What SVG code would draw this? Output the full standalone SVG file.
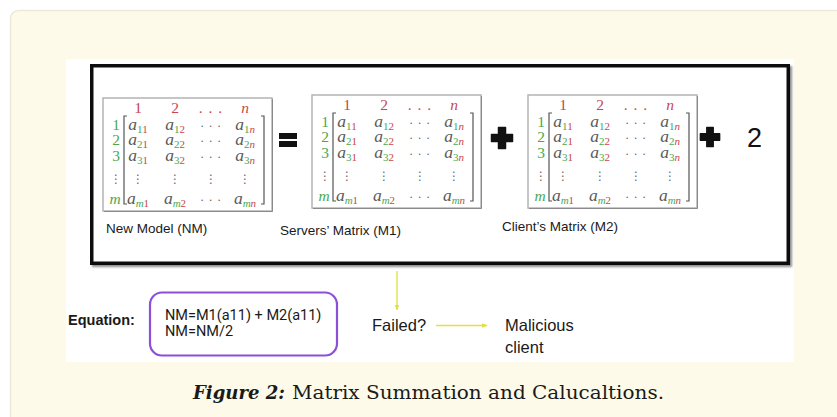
<svg xmlns="http://www.w3.org/2000/svg" xmlns:xlink="http://www.w3.org/1999/xlink" width="837" height="417" viewBox="0 0 837 417">
  <style>
    .lbl { font-family: "Liberation Sans", Arial, sans-serif; font-size: 13.5px; fill: #1a1a1a; }
    .txt { font-family: "Liberation Sans", Arial, sans-serif; font-size: 16.5px; fill: #1a1a1a; }
    .eq { font-family: Roboto, "Liberation Sans", sans-serif; font-size: 14.5px; fill: #1a1a1a; }
    .hd { font-family: "Liberation Serif", "DejaVu Serif", serif; font-size: 15.5px; fill: #c9474a; text-anchor: middle; }
    .rl { font-family: "Liberation Serif", "DejaVu Serif", serif; font-size: 15.5px; fill: #4aa84e; text-anchor: middle; }
    .en { font-family: "Liberation Serif", "DejaVu Serif", serif; font-size: 17.5px; fill: #5a5a5a; font-style: italic; text-anchor: middle; }
    .sg { font-size: 11px; fill: #4aa84e; font-style: normal; }
    .sr { font-size: 11px; fill: #c9474a; font-style: normal; }
    .si { font-size: 11px; font-style: italic; }
    .dt { font-family: "DejaVu Sans", sans-serif; font-size: 12px; fill: #6a6a6a; text-anchor: middle; }
    .hdt { font-family: "Liberation Serif", serif; font-size: 13px; fill: #6a6a6a; text-anchor: middle; letter-spacing: 1px; }
    .frame { fill: #ffffff; stroke: #b4b4b4; stroke-width: 1.5; }
    .brk { fill: none; stroke: #555; stroke-width: 1.2; }
    .yl { stroke: #e3df3c; stroke-width: 1.3; fill: none; }
    .cap { font-family: "DejaVu Serif", "Liberation Serif", serif; font-size: 19px; fill: #1a1a1a; }
  </style>
  <defs>
    <filter id="shadow" x="-5%" y="-5%" width="110%" height="115%">
      <feGaussianBlur in="SourceAlpha" stdDeviation="1.2"/>
      <feOffset dx="2" dy="2" result="b"/>
      <feComponentTransfer><feFuncA type="linear" slope="0.45"/></feComponentTransfer>
      <feMerge><feMergeNode/><feMergeNode in="SourceGraphic"/></feMerge>
    </filter>
    <marker id="ya" viewBox="0 0 10 10" refX="9" refY="5" markerWidth="6" markerHeight="6" orient="auto" markerUnits="userSpaceOnUse">
      <path d="M0,1 L10,5 L0,9 z" fill="#e3df3c"/>
    </marker>
    <path id="plus" d="M-3.5,-10.5 h7 v7 h7 v7 h-7 v7 h-7 v-7 h-7 v-7 h7 z" fill="#111" stroke="#111" stroke-width="1.5" stroke-linejoin="round"/>
    <!-- generic m x n matrix card, origin at frame top-left -->
    <g id="matrix">
      <rect class="frame" x="0" y="0" width="169" height="113"/>
      <path d="M169.5,1 V113.5 H1" fill="none" stroke="#8a8a8a" stroke-width="1"/>
      <text class="hd" x="35" y="15">1</text>
      <text class="hd" x="72" y="15">2</text>
      <text class="hd" x="108" y="15" letter-spacing="1">. . .</text>
      <text class="hd" x="142" y="15" font-style="italic">n</text>
      <text class="rl" x="13" y="32">1</text>
      <text class="rl" x="13" y="47">2</text>
      <text class="rl" x="13" y="63">3</text>
      <text class="dt" x="13" y="85">⋮</text>
      <text class="rl" x="12" y="106" font-style="italic">m</text>
      <path class="brk" d="M24,18 H21 V106 H24"/>
      <path class="brk" d="M158,18 H161 V106 H158"/>
      <text class="en" x="35" y="32">a<tspan class="sg" dy="2.5">1</tspan><tspan class="sr">1</tspan></text>
      <text class="en" x="72" y="32">a<tspan class="sg" dy="2.5">1</tspan><tspan class="sr">2</tspan></text>
      <text class="hdt" x="108" y="29">. . .</text>
      <text class="en" x="142" y="32">a<tspan class="sg" dy="2.5">1</tspan><tspan class="sr si">n</tspan></text>
      <text class="en" x="35" y="47">a<tspan class="sg" dy="2.5">2</tspan><tspan class="sr">1</tspan></text>
      <text class="en" x="72" y="47">a<tspan class="sg" dy="2.5">2</tspan><tspan class="sr">2</tspan></text>
      <text class="hdt" x="108" y="44">. . .</text>
      <text class="en" x="142" y="47">a<tspan class="sg" dy="2.5">2</tspan><tspan class="sr si">n</tspan></text>
      <text class="en" x="35" y="63">a<tspan class="sg" dy="2.5">3</tspan><tspan class="sr">1</tspan></text>
      <text class="en" x="72" y="63">a<tspan class="sg" dy="2.5">3</tspan><tspan class="sr">2</tspan></text>
      <text class="hdt" x="108" y="60">. . .</text>
      <text class="en" x="142" y="63">a<tspan class="sg" dy="2.5">3</tspan><tspan class="sr si">n</tspan></text>
      <text class="dt" x="35" y="85">⋮</text>
      <text class="dt" x="72" y="85">⋮</text>
      <text class="dt" x="108" y="85">⋮</text>
      <text class="dt" x="142" y="85">⋮</text>
      <text class="en" x="35" y="106">a<tspan class="sg si" dy="2.5">m</tspan><tspan class="sr">1</tspan></text>
      <text class="en" x="72" y="106">a<tspan class="sg si" dy="2.5">m</tspan><tspan class="sr">2</tspan></text>
      <text class="hdt" x="108" y="103">. . .</text>
      <text class="en" x="142" y="106">a<tspan class="sg si" dy="2.5">m</tspan><tspan class="sr si">n</tspan></text>
    </g>
  </defs>

  <!-- page panel -->
  <rect x="10.5" y="10.5" width="840" height="430" rx="8" fill="#fefae9" stroke="#ede9d6" stroke-width="1.5"/>
  <rect x="66" y="59" width="728" height="303" fill="#ffffff"/>

  <!-- summation frame -->
  <g id="sum-frame">
    <rect x="91.75" y="65.75" width="696.5" height="197.5" fill="#ffffff" stroke="#111" stroke-width="3.5" filter="url(#shadow)"/>
  </g>

  <g id="nm">
    <use xlink:href="#matrix" href="#matrix" transform="translate(103,98)"/>
    <text class="lbl" x="106" y="233">New Model (NM)</text>
  </g>

  <g id="equals">
    <rect x="279" y="133" width="18" height="6" fill="#111"/>
    <rect x="279" y="141" width="18" height="6" fill="#111"/>
  </g>

  <g id="m1">
    <use xlink:href="#matrix" href="#matrix" transform="translate(312,95)"/>
    <text class="lbl" x="280" y="235">Servers’ Matrix (M1)</text>
  </g>

  <g id="plus1">
    <use xlink:href="#plus" href="#plus" transform="translate(502,138)"/>
  </g>

  <g id="m2">
    <use xlink:href="#matrix" href="#matrix" transform="translate(528,95)"/>
    <text class="lbl" x="502" y="231">Client’s Matrix (M2)</text>
  </g>

  <g id="plus2">
    <use xlink:href="#plus" href="#plus" transform="translate(710,137) scale(0.92)"/>
  </g>

  <g id="two">
    <text x="747" y="147" font-family="Liberation Sans, Arial, sans-serif" font-size="27" fill="#111">2</text>
  </g>

  <g id="equation">
    <text x="68" y="325" font-family="Liberation Sans, Arial, sans-serif" font-size="14.5" font-weight="bold" fill="#1a1a1a">Equation:</text>
    <rect x="150" y="292.5" width="187" height="63" rx="12" fill="#ffffff" stroke="#8c4fd8" stroke-width="2.2"/>
    <text class="eq" x="165" y="320">NM=M1(a11) + M2(a11)</text>
    <text class="eq" x="165" y="336">NM=NM/2</text>
  </g>

  <g id="failed">
    <text class="txt" x="372" y="331">Failed?</text>
  </g>

  <g id="malicious">
    <text class="txt" x="505" y="331">Malicious</text>
    <text class="txt" x="505" y="353">client</text>
  </g>

  <g id="connectors">
    <path class="yl" d="M397,271 V310" marker-end="url(#ya)"/>
    <path class="yl" d="M436,325.5 H487" marker-end="url(#ya)"/>
  </g>

  <!-- caption -->
  <text class="cap" x="193" y="399" font-weight="bold" font-style="italic" textLength="92" lengthAdjust="spacingAndGlyphs">Figure 2:</text>
  <text class="cap" x="292" y="399" textLength="372" lengthAdjust="spacingAndGlyphs">Matrix Summation and Calucaltions.</text>
</svg>
